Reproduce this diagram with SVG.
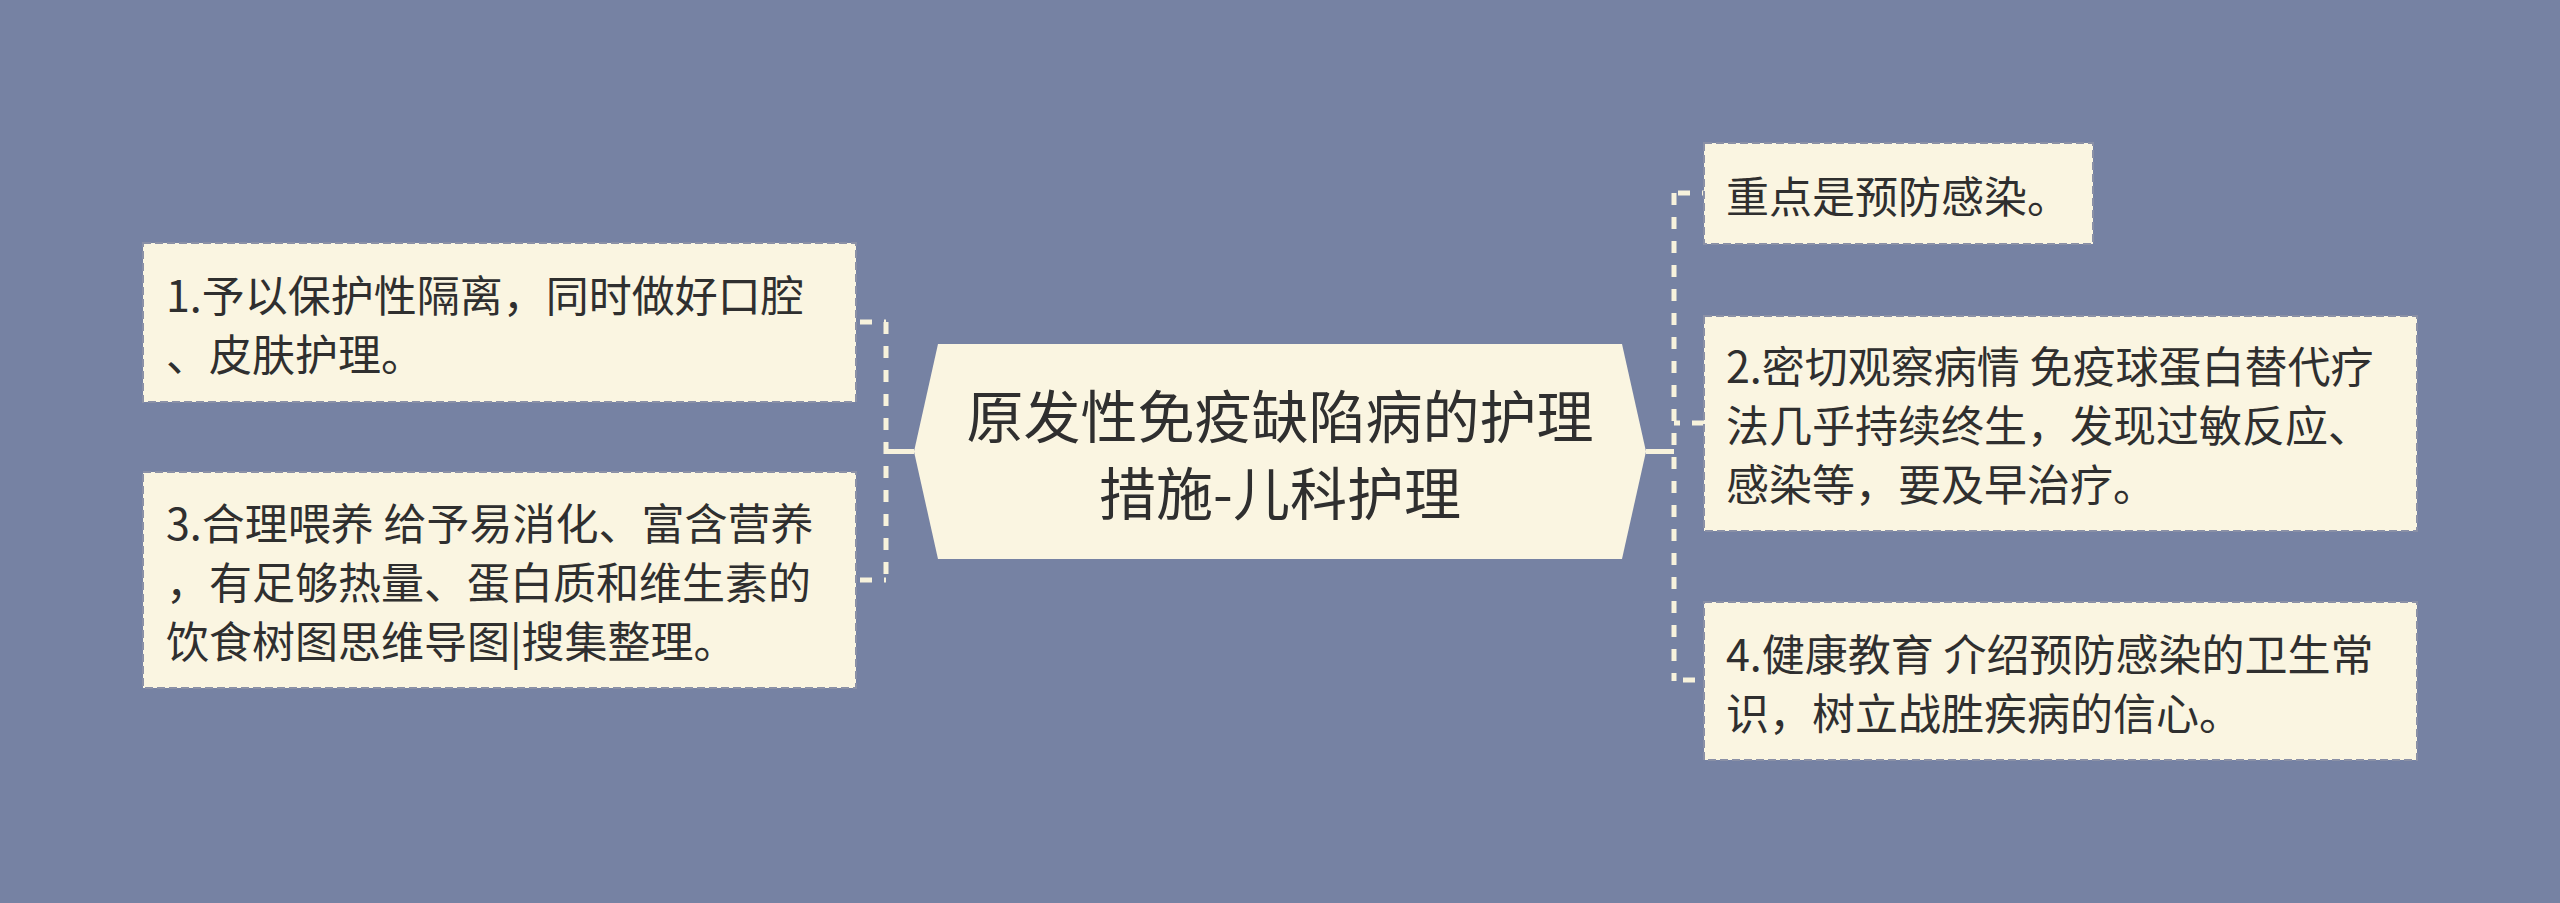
<svg xmlns="http://www.w3.org/2000/svg" width="2560" height="903" viewBox="0 0 2560 903">
<style>
.bg{fill:#7682A3}
.leaf{fill:#FAF5E1;stroke:#8A90A6;stroke-width:2;stroke-dasharray:8 4}
.root{fill:#FAF5E1}
.t{font-family:"Noto Sans CJK SC","Noto Sans",sans-serif;fill:#2F2F2F;dominant-baseline:central}
.lt{font-size:43px}
.rt{font-size:57px;text-anchor:middle}
.dash{fill:none;stroke:#F7F2DC;stroke-width:5;stroke-dasharray:12 12}
.solid{fill:none;stroke:#F7F2DC;stroke-width:5}
</style>
<rect class="bg" x="0" y="0" width="2560" height="903"/>
<g id="connectors">
<path class="solid" d="M914 451.5 H886"/>
<path class="dash" d="M886 322 V582"/>
<path class="dash" d="M860 322 H886"/>
<path class="dash" d="M860 580 H886"/>
<path class="solid" d="M1646 451.5 H1674"/>
<path class="dash" d="M1674 193 V681"/>
<path class="dash" d="M1678 193 H1704"/>
<path class="dash" d="M1704 423 H1674"/>
<path class="dash" d="M1683 680 H1704"/>
</g>
<g id="root">
<polygon class="root" points="938,344 1622,344 1646,451.5 1622,559 938,559 914,451.5"/>
<text class="t rt" x="1280" y="413">原发性免疫缺陷病的护理</text>
<text class="t rt" x="1280" y="490">措施-儿科护理</text>
</g>
<g id="node1">
<rect class="leaf" x="143" y="243" width="713" height="159"/>
<text class="t lt" x="166" y="293">1.予以保护性隔离，同时做好口腔</text>
<text class="t lt" x="166" y="352">、皮肤护理。</text>
</g>
<g id="node3">
<rect class="leaf" x="143" y="472" width="713" height="216"/>
<text class="t lt" x="166" y="521">3.合理喂养 给予易消化、富含营养</text>
<text class="t lt" x="166" y="580">，有足够热量、蛋白质和维生素的</text>
<text class="t lt" x="166" y="639">饮食树图思维导图|搜集整理。</text>
</g>
<g id="node0">
<rect class="leaf" x="1704" y="143" width="389" height="101"/>
<text class="t lt" x="1726" y="193.5">重点是预防感染。</text>
</g>
<g id="node2">
<rect class="leaf" x="1704" y="316" width="713" height="215"/>
<text class="t lt" x="1726" y="364">2.密切观察病情 免疫球蛋白替代疗</text>
<text class="t lt" x="1726" y="423">法几乎持续终生，发现过敏反应、</text>
<text class="t lt" x="1726" y="482">感染等，要及早治疗。</text>
</g>
<g id="node4">
<rect class="leaf" x="1704" y="602" width="713" height="158"/>
<text class="t lt" x="1726" y="651.5">4.健康教育 介绍预防感染的卫生常</text>
<text class="t lt" x="1726" y="710.5">识，树立战胜疾病的信心。</text>
</g>
</svg>
